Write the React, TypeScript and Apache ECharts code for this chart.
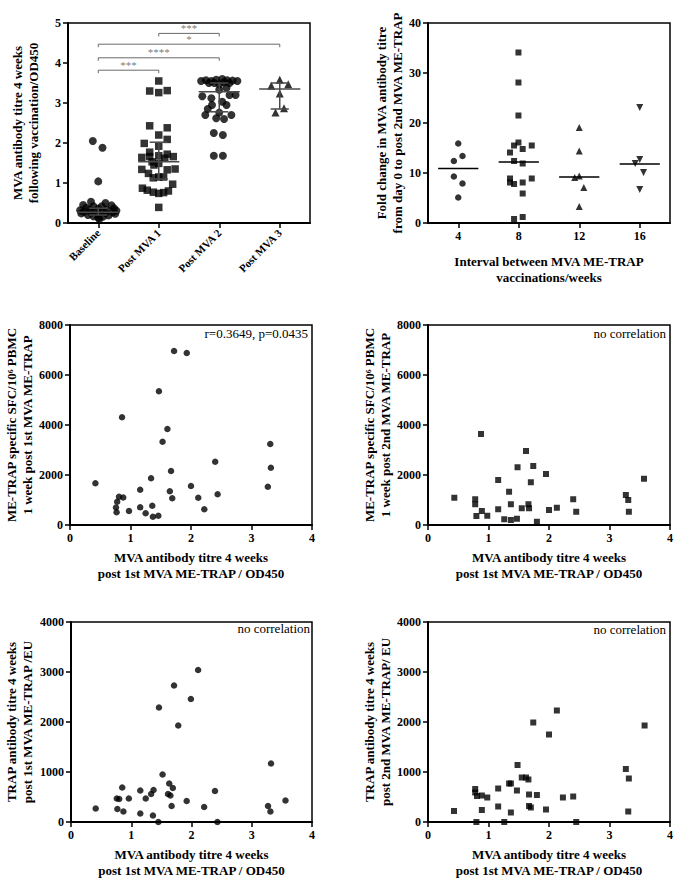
import React, { useEffect, useRef } from "react";
import * as echarts from "echarts";

const FONT = "Liberation Serif";

// ---------- Panel A: MVA antibody titre by time point ----------
const groupNames = ["Baseline", "Post MVA 1", "Post MVA 2", "Post MVA 3"];
// [offset within category, value]
const baselinePts = [
  [-0.09, 2.05], [0.07, 1.88], [0.0, 1.04], [-0.12, 0.53], [0.12, 0.5], [-0.25, 0.45], [0.22, 0.44],
  [-0.08, 0.42], [0.06, 0.42], [-0.2, 0.38], [0.26, 0.37], [0.0, 0.36], [-0.14, 0.34], [0.14, 0.33],
  [-0.3, 0.32], [0.3, 0.31], [-0.05, 0.3], [0.05, 0.29], [-0.24, 0.28], [0.24, 0.27], [-0.12, 0.26],
  [0.12, 0.25], [-0.28, 0.24], [0.28, 0.23], [0.0, 0.22], [-0.17, 0.2], [0.17, 0.19], [-0.08, 0.17],
  [0.08, 0.16], [0.0, 0.13], [0.02, 0.1],
];
const postMva1Pts = [
  [0, 3.55], [-0.15, 3.3], [0, 3.26], [0.14, 3.31], [-0.15, 2.43], [0.14, 2.38], [0, 2.2], [0.14, 2.09],
  [-0.24, 1.99], [0, 1.92], [-0.15, 1.77], [0.14, 1.72], [-0.28, 1.64], [-0.15, 1.66], [0, 1.68],
  [0.24, 1.66], [0.1, 1.62], [-0.11, 1.53], [0, 1.49], [-0.08, 1.45], [-0.28, 1.34], [0.14, 1.33],
  [0.27, 1.35], [-0.17, 1.24], [0, 1.15], [-0.09, 1.13], [0.08, 1.15], [0.23, 0.97], [-0.27, 0.87],
  [-0.19, 0.82], [-0.09, 0.77], [0, 0.74], [0.08, 0.76], [0.16, 0.8], [0, 0.39],
];
const postMva2Pts = [
  [-0.3, 3.55], [-0.22, 3.57], [-0.13, 3.55], [-0.05, 3.58], [0.05, 3.6], [0.13, 3.57], [0.22, 3.56],
  [0.3, 3.55], [-0.17, 3.5], [-0.08, 3.5], [0.08, 3.52], [0.17, 3.5], [0, 3.47], [-0.28, 3.17],
  [-0.13, 3.12], [0.17, 3.2], [0.27, 3.2], [0, 3.33], [0.12, 3.38], [0.05, 3.03], [-0.12, 2.95],
  [0.12, 2.95], [-0.19, 2.85], [0, 2.76], [0.2, 2.7], [-0.23, 2.7], [-0.05, 2.62], [0.08, 2.6],
  [-0.09, 2.25], [0.06, 2.2], [-0.09, 1.68], [0.06, 1.68],
];
const postMva3Pts = [[0, 3.58], [-0.14, 3.43], [0.14, 3.47], [0, 3.24], [0.07, 2.87], [-0.07, 2.76]];
// [category index, median, q1, q3]
const groupSummary = [
  [0, 0.27, 0.2, 0.37],
  [1, 1.53, 1.1, 2.02],
  [2, 3.28, 2.78, 3.5],
  [3, 3.35, 2.85, 3.5],
];
// [from index, to index, y]
const sigBrackets = [
  [0, 1, 3.82],
  [0, 2, 4.13],
  [0, 3, 4.47],
  [1, 2, 4.74],
];
const sigLabels = ["***", "****", "*", "***"];

// ---------- Panel B: fold change by interval ----------
const interval4 = [[4.0, 15.9], [4.28, 13.4], [3.71, 12.4], [3.71, 9.3], [4.28, 7.9], [4.0, 5.1]];
const interval8 = [
  [7.98, 34.1], [7.98, 28.1], [7.98, 21.5], [7.98, 16.1], [7.69, 15.5], [8.26, 14.8], [8.86, 15.5],
  [7.42, 14.1], [7.69, 12.4], [8.26, 11.9], [7.42, 8.9], [8.86, 8.9], [7.42, 8.1], [7.69, 7.8],
  [8.26, 8.1], [8.26, 5.9], [7.69, 0.8], [8.26, 1.2],
];
const interval12 = [[12.0, 19.1], [12.0, 14.4], [11.7, 9.1], [12.0, 9.4], [12.3, 7.1], [12.0, 3.3]];
const interval16 = [[16.0, 23.1], [16.0, 12.7], [15.7, 11.9], [16.25, 10.1], [16.0, 6.7]];
const intervalMedians = [[4, 10.9], [8, 12.2], [12, 9.2], [16, 11.8]];
const intervalTicks = [4, 8, 12, 16];

// ---------- Panels C-F: correlations ----------
const sfcPost1 = [
  [1.72, 6960], [1.93, 6880], [1.47, 5350], [0.86, 4310], [1.61, 3840], [1.53, 3330], [0.42, 1670],
  [0.78, 930], [0.76, 700], [0.81, 1130], [0.88, 1100], [0.77, 510], [0.975, 560], [1.16, 1410],
  [1.16, 710], [1.25, 470], [1.34, 1870], [1.36, 770], [1.37, 330], [1.46, 370], [1.65, 1350],
  [1.67, 2160], [1.69, 1070], [2.0, 1560], [2.12, 1090], [2.22, 630], [2.4, 2530], [2.44, 1230],
  [3.27, 1530], [3.31, 3240], [3.32, 2290],
];
const sfcPost2 = [
  [0.435, 1090], [0.876, 3640], [0.78, 1030], [0.78, 830], [0.8, 360], [0.89, 560], [0.98, 370],
  [1.16, 1800], [1.16, 630], [1.26, 230], [1.34, 1330], [1.37, 830], [1.37, 200], [1.47, 250],
  [1.48, 2310], [1.55, 670], [1.62, 2960], [1.66, 830], [1.67, 670], [1.7, 1710], [1.74, 2360],
  [1.8, 130], [1.95, 2040], [2.0, 600], [2.13, 690], [2.4, 1030], [2.45, 530], [3.27, 1200],
  [3.31, 1000], [3.32, 530], [3.57, 1850],
];
const trapPost1 = [
  [2.11, 3040], [1.71, 2730], [1.99, 2460], [1.46, 2290], [1.78, 1930], [0.41, 270], [0.76, 470],
  [0.8, 460], [0.77, 260], [0.85, 690], [0.87, 210], [0.96, 470], [1.15, 630], [1.15, 170],
  [1.24, 470], [1.33, 560], [1.37, 640], [1.36, 130], [1.45, 0], [1.52, 950], [1.61, 560],
  [1.63, 770], [1.65, 530], [1.69, 680], [1.67, 320], [1.92, 420], [2.21, 300], [2.39, 620],
  [2.43, 0], [3.27, 320], [3.31, 210], [3.32, 1170], [3.56, 430],
];
const trapPost2 = [
  [1.74, 1990], [2.13, 2230], [2.0, 1750], [3.58, 1930], [0.43, 220], [0.78, 660], [0.78, 590],
  [0.8, 0], [0.81, 520], [0.89, 530], [0.89, 240], [0.98, 490], [1.16, 670], [1.16, 310], [1.26, 0],
  [1.34, 770], [1.37, 770], [1.37, 190], [1.47, 630], [1.48, 1140], [1.55, 890], [1.62, 890],
  [1.66, 850], [1.67, 550], [1.67, 320], [1.7, 290], [1.8, 540], [1.95, 250], [2.23, 490],
  [2.4, 510], [2.45, 0], [3.27, 1060], [3.32, 870], [3.31, 210],
];

const corrText = "r=0.3649, p=0.0435";
const noCorr = "no correlation";
const xCorrName = "MVA antibody titre 4 weeks\npost 1st MVA ME-TRAP / OD450";

const axisLine = { show: true, onZero: false, lineStyle: { color: "#000", width: 2 } };
const axisTick = { show: true, length: 5, lineStyle: { color: "#000", width: 1.5 } };
const axisLabel = {
  color: "#000",
  fontFamily: FONT,
  fontWeight: "bold",
  fontSize: 12,
  margin: 7,
  formatter: (v: number) => String(v),
};
const nameStyle = { color: "#000", fontFamily: FONT, fontWeight: "bold", fontSize: 13, lineHeight: 16 };

function valueAxis(gridIndex: number, min: number, max: number, interval: number, name: string, nameGap: number, extra: any = {}) {
  return {
    type: "value",
    gridIndex,
    min,
    max,
    interval,
    name,
    nameLocation: "middle",
    nameGap,
    nameTextStyle: nameStyle,
    axisLine,
    axisTick,
    axisLabel,
    splitLine: { show: false },
    ...extra,
  };
}

export default function App() {
  const ref = useRef<HTMLDivElement>(null);
  useEffect(() => {
    document.body.style.margin = "0";
    const chart = echarts.init(ref.current!, null, { renderer: "svg" });

    const gridBase = { show: true, borderColor: "#000", borderWidth: 1.5, containLabel: false, outerBoundsMode: "none" };
    const grids = [
      { left: 68, top: 23, width: 242, height: 200 },
      { left: 428, top: 23, width: 242, height: 200 },
      { left: 70, top: 325, width: 242, height: 200 },
      { left: 428, top: 325, width: 242, height: 200 },
      { left: 71, top: 622, width: 241, height: 200 },
      { left: 428, top: 622, width: 242, height: 200 },
    ].map((g) => ({ ...gridBase, ...g }));

    const xAxes: any[] = [
      {
        type: "category",
        gridIndex: 0,
        data: groupNames,
        boundaryGap: true,
        axisLine,
        axisTick: { ...axisTick, alignWithLabel: true },
        axisLabel: { ...axisLabel, formatter: undefined, fontSize: 11, rotate: 45, interval: 0, margin: 8 },
        splitLine: { show: false },
      },
      { type: "value", gridIndex: 0, min: -0.5, max: 3.5, show: false, axisLine: { onZero: false } },
      valueAxis(1, 2, 18, 4, "Interval between MVA ME-TRAP\nvaccinations/weeks", 30, {
        axisTick: { ...axisTick, customValues: intervalTicks },
        axisLabel: { ...axisLabel, customValues: intervalTicks },
      }),
      valueAxis(2, 0, 4, 1, xCorrName, 24),
      valueAxis(3, 0, 4, 1, xCorrName, 24),
      valueAxis(4, 0, 4, 1, xCorrName, 24),
      valueAxis(5, 0, 4, 1, xCorrName, 24),
    ];
    const yAxes: any[] = [
      valueAxis(0, 0, 5, 1, "MVA antibody titre 4 weeks\nfollowing vaccination/OD450", 27),
      valueAxis(1, 0, 40, 10, "Fold change in MVA antibody titre\nfrom day 0 to post 2nd MVA ME-TRAP", 19),
      valueAxis(2, 0, 8000, 2000, "ME-TRAP specific SFC/10⁶ PBMC\n1 week post 1st MVA ME-TRAP", 35),
      valueAxis(3, 0, 8000, 2000, "ME-TRAP specific SFC/10⁶ PBMC\n1 week post 2nd MVA ME-TRAP", 34),
      valueAxis(4, 0, 4000, 1000, "TRAP antibody titre 4 weeks\npost 1st MVA ME-TRAP /EU", 36),
      valueAxis(5, 0, 4000, 1000, "TRAP antibody titre 4 weeks\npost 2nd MVA ME-TRAP/ EU", 32),
    ];

    const scat = (xi: number, yi: number, data: any[], symbol: string, size: number, extra: any = {}) => ({
      type: "scatter",
      xAxisIndex: xi,
      yAxisIndex: yi,
      data,
      symbol,
      symbolSize: size,
      clip: false,
      itemStyle: { color: "#000" },
      silent: true,
      ...extra,
    });

    const place = (pts: number[][], idx: number) => pts.map(([o, v]) => [idx + o, v]);

    const summarySeries = {
      type: "custom",
      xAxisIndex: 1,
      yAxisIndex: 0,
      z: 5,
      silent: true,
      itemStyle: { color: "#4a4a4a" },
      data: groupSummary,
      encode: { x: 0, y: [1, 2, 3] },
      renderItem: (_p: any, api: any) => {
        const x = api.value(0), med = api.value(1), q1 = api.value(2), q3 = api.value(3);
        const w = 0.34, c = 0.15;
        const style = { stroke: "#4a4a4a", lineWidth: 1.5 };
        const seg = (a: number[], b: number[]) => ({
          type: "line",
          shape: { x1: a[0], y1: a[1], x2: b[0], y2: b[1] },
          style,
        });
        const p = (a: number, b: number) => api.coord([a, b]);
        return {
          type: "group",
          children: [
            seg(p(x - w, med), p(x + w, med)),
            seg(p(x, q1), p(x, q3)),
            seg(p(x - c, q1), p(x + c, q1)),
            seg(p(x - c, q3), p(x + c, q3)),
          ],
        };
      },
    };

    const bracketSeries = {
      type: "custom",
      xAxisIndex: 1,
      yAxisIndex: 0,
      z: 5,
      silent: true,
      itemStyle: { color: "#6a6a6a" },
      data: sigBrackets,
      encode: { x: [0, 1], y: 2 },
      renderItem: (_p: any, api: any) => {
        const a = api.coord([api.value(0), api.value(2)]);
        const b = api.coord([api.value(1), api.value(2)]);
        const style = { stroke: "#6a6a6a", lineWidth: 1 };
        return {
          type: "group",
          children: [
            { type: "line", shape: { x1: a[0], y1: a[1], x2: b[0], y2: b[1] }, style },
            { type: "line", shape: { x1: a[0], y1: a[1], x2: a[0], y2: a[1] + 3 }, style },
            { type: "line", shape: { x1: b[0], y1: b[1], x2: b[0], y2: b[1] + 3 }, style },
          ],
        };
      },
    };

    const bracketLabels = scat(
      1,
      0,
      sigBrackets.map((b, i) => ({ value: [(b[0] + b[1]) / 2, b[2]], name: sigLabels[i] })),
      "circle",
      0,
      {
        z: 6,
        label: {
          show: true,
          position: "top",
          distance: 0,
          formatter: (p: any) => p.name,
          color: "#555",
          fontFamily: FONT,
          fontSize: 11,
          textBorderWidth: 0,
        },
      }
    );

    const medianLineB = {
      type: "custom",
      xAxisIndex: 2,
      yAxisIndex: 1,
      z: 5,
      silent: true,
      itemStyle: { color: "#000" },
      data: intervalMedians,
      encode: { x: 0, y: 1 },
      renderItem: (_p: any, api: any) => {
        const x = api.value(0), m = api.value(1);
        const a = api.coord([x - 1.33, m]);
        const b = api.coord([x + 1.33, m]);
        return {
          type: "line",
          shape: { x1: a[0], y1: a[1], x2: b[0], y2: b[1] },
          style: { stroke: "#000", lineWidth: 1.5 },
        };
      },
    };

    const annStyle = { fill: "#000", fontFamily: FONT, fontSize: 13 };

    chart.setOption({
      animation: false,
      backgroundColor: "#fff",
      grid: grids,
      xAxis: xAxes,
      yAxis: yAxes,
      series: [
        scat(1, 0, place(baselinePts, 0), "circle", 8),
        scat(1, 0, place(postMva1Pts, 1), "rect", 7.5),
        scat(1, 0, place(postMva2Pts, 2), "circle", 8),
        scat(1, 0, place(postMva3Pts, 3), "triangle", 8),
        summarySeries,
        bracketSeries,
        bracketLabels,
        scat(2, 1, interval4, "circle", 6.5),
        scat(2, 1, interval8, "rect", 6),
        scat(2, 1, interval12, "triangle", 7),
        scat(2, 1, interval16, "triangle", 7, { symbolRotate: 180 }),
        medianLineB,
        scat(3, 2, sfcPost1, "circle", 6.5),
        scat(4, 3, sfcPost2, "rect", 6),
        scat(5, 4, trapPost1, "circle", 6.5),
        scat(6, 5, trapPost2, "rect", 6),
      ],
      graphic: [
        { type: "text", right: 367, top: 327, style: { ...annStyle, text: corrText } },
        { type: "text", right: 9, top: 327, style: { ...annStyle, text: noCorr } },
        { type: "text", right: 365, top: 622, style: { ...annStyle, text: noCorr } },
        { type: "text", right: 9, top: 623, style: { ...annStyle, text: noCorr } },
      ],
    });
    return () => chart.dispose();
  }, []);
  return <div ref={ref} style={{ width: 675, height: 879 }} />;
}
